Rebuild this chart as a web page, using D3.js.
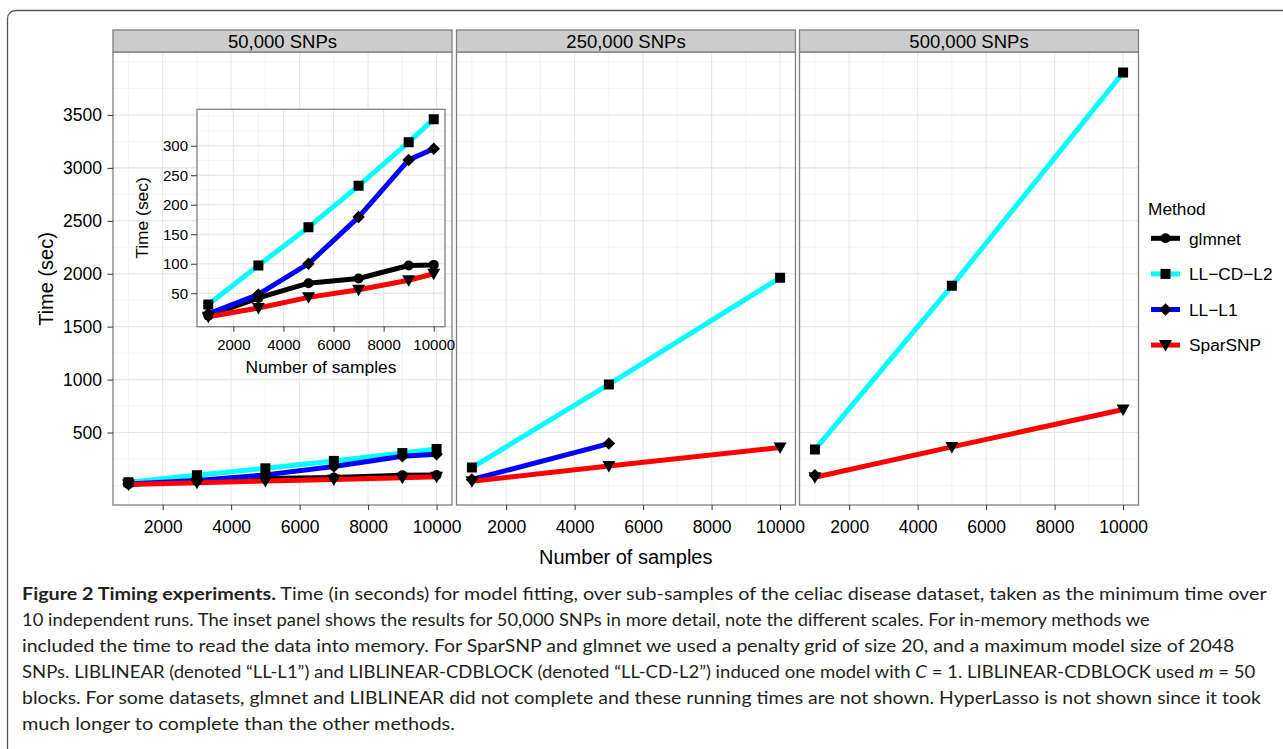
<!DOCTYPE html>
<html>
<head>
<meta charset="utf-8">
<title>Timing experiments</title>
<script src="https://d3js.org/d3.v7.min.js"></script>
<style>
  body { margin: 0; background: #fff; }
  svg { display: block; font-family: "Liberation Sans", Arial, sans-serif; }
  .caption { font-family: Lato, "Open Sans", sans-serif; font-size: 17px; fill: #231f20; }
  .tick line { stroke: #333; }
  .tick text { fill: #000; }
</style>
</head>
<body>
<div id="chart"></div>
<script>
// ---- data (seconds) ----
const methods = ["glmnet", "LL\u2212CD\u2212L2", "LL\u2212L1", "SparSNP"];
const methodColors = ["#000000", "#00ffff", "#0000ff", "#ff0000"];
const panelLabels = ["50,000 SNPs", "250,000 SNPs", "500,000 SNPs"];

const samples50k = [1000, 3000, 5000, 7000, 9000, 10000];
const glmnet50k = [12, 42, 67, 75, 97, 98];
const llcdl2_50k = [31, 97, 162, 232, 306, 345];
const lll1_50k = [15, 48, 100, 179, 276, 295];
const sparsnp50k = [10, 25, 43, 56, 72, 83];

const samples250k = [1000, 5000, 10000];
const llcdl2_250k = [169, 954, 1962];
const lll1_250k = [56, 396];
const sparsnp250k = [40, 184, 358];

const samples500k = [1000, 5000, 10000];
const llcdl2_500k = [339, 1886, 3900];
const lll1_500k = [96];
const sparsnp500k = [78, 364, 718];

const xTicks = [2000, 4000, 6000, 8000, 10000];
const yTicksMain = [500, 1000, 1500, 2000, 2500, 3000, 3500];
const yTicksInset = [50, 100, 150, 200, 250, 300];

const captionLines = [
  [["b", "Figure 2 Timing experiments."], ["", " Time (in seconds) for model fitting, over sub-samples of the celiac disease dataset, taken as the minimum time over"]],
  [["", "10 independent runs. The inset panel shows the results for 50,000 SNPs in more detail, note the different scales. For in-memory methods we"]],
  [["", "included the time to read the data into memory. For SparSNP and glmnet we used a penalty grid of size 20, and a maximum model size of 2048"]],
  [["", "SNPs. LIBLINEAR (denoted \u201cLL-L1\u201d) and LIBLINEAR-CDBLOCK (denoted \u201cLL-CD-L2\u201d) induced one model with "], ["i", "C"], ["", " = 1. LIBLINEAR-CDBLOCK used "], ["i", "m"], ["", " = 50"]],
  [["", "blocks. For some datasets, glmnet and LIBLINEAR did not complete and these running times are not shown. HyperLasso is not shown since it took"]],
  [["", "much longer to complete than the other methods."]]
];
const captionRight = [1268, 1150, 1235, 1257, 1262, 455];

// series table built from the arrays (method index, x, y)
function zipSeries(m, xs, ys) {
  return { m: m, pts: ys.map((v, i) => [xs[i], v]) };
}
const panels = [
  [zipSeries(0, samples50k, glmnet50k), zipSeries(1, samples50k, llcdl2_50k),
   zipSeries(2, samples50k, lll1_50k), zipSeries(3, samples50k, sparsnp50k)],
  [zipSeries(1, samples250k, llcdl2_250k), zipSeries(2, samples250k, lll1_250k),
   zipSeries(3, samples250k, sparsnp250k)],
  [zipSeries(1, samples500k, llcdl2_500k), zipSeries(2, samples500k, lll1_500k),
   zipSeries(3, samples500k, sparsnp500k)]
];

// ---- marker shapes ----
const shapeCircle = { draw(ctx, s) { const r = s; ctx.moveTo(r, 0); ctx.arc(0, 0, r, 0, 2 * Math.PI); } };
const shapeSquare = { draw(ctx, s) { const h = s; ctx.rect(-h, -h, 2 * h, 2 * h); } };
const shapeDiamond = { draw(ctx, s) { const h = s * 1.25; ctx.moveTo(0, -h); ctx.lineTo(h, 0); ctx.lineTo(0, h); ctx.lineTo(-h, 0); ctx.closePath(); } };
const shapeTriDown = { draw(ctx, s) { const w = s * 1.3, t = s, b = s * 1.3; ctx.moveTo(-w, -t); ctx.lineTo(w, -t); ctx.lineTo(0, b); ctx.closePath(); } };
const methodShapes = [shapeCircle, shapeSquare, shapeDiamond, shapeTriDown];
const markerSize = [5, 5, 5, 5];
function marker(m) { return d3.symbol().type(methodShapes[m]).size(markerSize[m])(); }

// ---- layout ----
const W = 1283, H = 749;
const panelLeft = [113, 456.5, 799.5];
const panelW = 339;
const stripTop = 30, plotTop = 52, plotBottom = 505;

const svg = d3.select("#chart").append("svg").attr("width", W).attr("height", H);

svg.append("rect").attr("x", 7.5).attr("y", 10.5).attr("width", 1320).attr("height", 800)
  .attr("rx", 8).attr("fill", "none").attr("stroke", "#555").attr("stroke-width", 1.3);

function expand(lo, hi) { const d = hi - lo; return [lo - 0.05 * d, hi + 0.05 * d]; }
const xDomain = expand(1000, 10000);
const allMain = panels.flat().flatMap(s => s.pts.map(p => p[1]));
const yDomainMain = expand(d3.min(allMain), d3.max(allMain));
const yDomainInset = expand(d3.min(panels[0].flatMap(s => s.pts.map(p => p[1]))),
                            d3.max(panels[0].flatMap(s => s.pts.map(p => p[1]))));

const yMain = d3.scaleLinear().domain(yDomainMain).range([plotBottom, plotTop]);

function drawGrid(g, x, y, xMinor, yMinor, xMajor, yMajor, x0, x1, y0, y1) {
  g.selectAll(".minx").data(xMinor).join("line").attr("x1", x).attr("x2", x)
    .attr("y1", y0).attr("y2", y1).attr("stroke", "#f3f3f3").attr("stroke-width", 1);
  g.selectAll(".miny").data(yMinor).join("line").attr("class", "miny").attr("y1", y).attr("y2", y)
    .attr("x1", x0).attr("x2", x1).attr("stroke", "#f3f3f3").attr("stroke-width", 1);
  g.selectAll(".majx").data(xMajor).join("line").attr("class", "majx").attr("x1", x).attr("x2", x)
    .attr("y1", y0).attr("y2", y1).attr("stroke", "#e6e6e6").attr("stroke-width", 1.1);
  g.selectAll(".majy").data(yMajor).join("line").attr("class", "majy").attr("y1", y).attr("y2", y)
    .attr("x1", x0).attr("x2", x1).attr("stroke", "#e6e6e6").attr("stroke-width", 1.1);
}

function drawSeries(g, series, x, y) {
  const line = d3.line().x(p => x(p[0])).y(p => y(p[1]));
  g.selectAll(".series").data(series).join("path").attr("class", "series")
    .attr("d", s => line(s.pts)).attr("fill", "none")
    .attr("stroke", s => methodColors[s.m]).attr("stroke-width", 5)
    .attr("stroke-linejoin", "round").attr("stroke-linecap", "butt");
  series.forEach(s => {
    g.append("g").selectAll("path").data(s.pts).join("path")
      .attr("d", marker(s.m))
      .attr("transform", p => `translate(${x(p[0])},${y(p[1])})`)
      .attr("fill", "#000");
  });
}

const xMinorTicks = [1000, 3000, 5000, 7000, 9000];
const yMinorMain = d3.range(0, 4001, 250);
const yMinorInset = d3.range(0, 351, 25);

panels.forEach((series, i) => {
  const left = panelLeft[i];
  const x = d3.scaleLinear().domain(xDomain).range([left, left + panelW]);
  const clipId = "clip" + i;
  svg.append("clipPath").attr("id", clipId).append("rect")
    .attr("x", left).attr("y", plotTop).attr("width", panelW).attr("height", plotBottom - plotTop);

  const gGrid = svg.append("g").attr("clip-path", `url(#${clipId})`);
  drawGrid(gGrid, x, yMain, xMinorTicks, yMinorMain, xTicks, yTicksMain, left, left + panelW, plotTop, plotBottom);

  const gData = svg.append("g").attr("clip-path", `url(#${clipId})`);
  drawSeries(gData, series, x, yMain);

  svg.append("rect").attr("x", left).attr("y", plotTop).attr("width", panelW)
    .attr("height", plotBottom - plotTop).attr("fill", "none").attr("stroke", "#7f7f7f").attr("stroke-width", 1.3);

  // strip
  svg.append("rect").attr("x", left).attr("y", stripTop).attr("width", panelW).attr("height", plotTop - stripTop)
    .attr("fill", "#cccccc").attr("stroke", "#7f7f7f").attr("stroke-width", 1.3);
  svg.append("text").attr("x", left + panelW / 2).attr("y", (stripTop + plotTop) / 2)
    .attr("dy", "0.36em").attr("text-anchor", "middle").style("font-size", "18.5px").text(panelLabels[i]);

  // x axis
  svg.append("g").attr("transform", `translate(0,${plotBottom})`)
    .call(d3.axisBottom(x).tickValues(xTicks).tickFormat(d3.format("d")).tickSize(5).tickSizeOuter(0).tickPadding(10.5))
    .call(g => g.select(".domain").remove())
    .call(g => g.selectAll("text").style("font-size", "17.5px"));
});

// main y axis
svg.append("g").attr("transform", `translate(${panelLeft[0]},0)`)
  .call(d3.axisLeft(yMain).tickValues(yTicksMain).tickFormat(d3.format("d")).tickSize(5.5).tickPadding(5.5))
  .call(g => g.select(".domain").remove())
  .call(g => g.selectAll("text").style("font-size", "17.5px"));

svg.append("text").attr("transform", "translate(46,279) rotate(-90)").attr("text-anchor", "middle")
  .attr("dy", "0.36em").style("font-size", "20px").text("Time (sec)");
svg.append("text").attr("x", (panelLeft[0] + panelLeft[2] + panelW) / 2).attr("y", 557)
  .attr("dy", "0.36em").attr("text-anchor", "middle").style("font-size", "20px").text("Number of samples");

// ---- inset ----
const inL = 197, inR = 445, inT = 109.3, inB = 326.7;
const xIn = d3.scaleLinear().domain(xDomain).range([inL, inR]);
const yIn = d3.scaleLinear().domain(yDomainInset).range([inB, inT]);
svg.append("rect").attr("x", inL).attr("y", inT).attr("width", inR - inL).attr("height", inB - inT).attr("fill", "#fff");
svg.append("clipPath").attr("id", "clipIn").append("rect")
  .attr("x", inL).attr("y", inT).attr("width", inR - inL).attr("height", inB - inT);
const gInGrid = svg.append("g").attr("clip-path", "url(#clipIn)");
drawGrid(gInGrid, xIn, yIn, xMinorTicks, yMinorInset, xTicks, yTicksInset, inL, inR, inT, inB);
const gInData = svg.append("g").attr("clip-path", "url(#clipIn)");
drawSeries(gInData, panels[0], xIn, yIn);
svg.append("rect").attr("x", inL).attr("y", inT).attr("width", inR - inL).attr("height", inB - inT)
  .attr("fill", "none").attr("stroke", "#7f7f7f").attr("stroke-width", 1.3);

svg.append("g").attr("transform", `translate(0,${inB})`)
  .call(d3.axisBottom(xIn).tickValues(xTicks).tickFormat(d3.format("d")).tickSize(5).tickSizeOuter(0).tickPadding(8))
  .call(g => g.select(".domain").remove())
  .call(g => g.selectAll("text").style("font-size", "15px"));
svg.append("g").attr("transform", `translate(${inL},0)`)
  .call(d3.axisLeft(yIn).tickValues(yTicksInset).tickSize(6).tickPadding(3))
  .call(g => g.select(".domain").remove())
  .call(g => g.selectAll("text").style("font-size", "15px"));
svg.append("text").attr("transform", `translate(142,${(inT + inB) / 2}) rotate(-90)`).attr("text-anchor", "middle")
  .attr("dy", "0.36em").style("font-size", "17.4px").text("Time (sec)");
svg.append("text").attr("x", (inL + inR) / 2).attr("y", 367).attr("dy", "0.36em")
  .attr("text-anchor", "middle").style("font-size", "17.4px").text("Number of samples");

// ---- legend ----
const legend = svg.append("g");
legend.append("text").attr("x", 1148).attr("y", 209).attr("dy", "0.36em").style("font-size", "17.3px").text("Method");
methods.forEach((name, i) => {
  const cy = 238.3 + i * 35.6;
  legend.append("line").attr("x1", 1151).attr("x2", 1180).attr("y1", cy).attr("y2", cy)
    .attr("stroke", methodColors[i]).attr("stroke-width", 5);
  legend.append("path").attr("d", marker(i)).attr("transform", `translate(1165.5,${cy})`).attr("fill", "#000");
  legend.append("text").attr("x", 1189).attr("y", cy).attr("dy", "0.36em").style("font-size", "17.3px").text(name);
});

// ---- caption: each line squeezed to the width it has in the figure ----
captionLines.forEach((parts, i) => {
  const t = svg.append("text").attr("class", "caption").attr("x", 0).attr("y", 0);
  parts.forEach(p => {
    const ts = t.append("tspan").text(p[1]);
    if (p[0] === "b") ts.style("font-weight", "bold");
    if (p[0] === "i") ts.style("font-style", "italic");
  });
  const sx = (captionRight[i] - 22) / t.node().getComputedTextLength();
  t.attr("transform", `translate(22,${600 + i * 26}) scale(${sx},1)`);
});
</script>
</body>
</html>
